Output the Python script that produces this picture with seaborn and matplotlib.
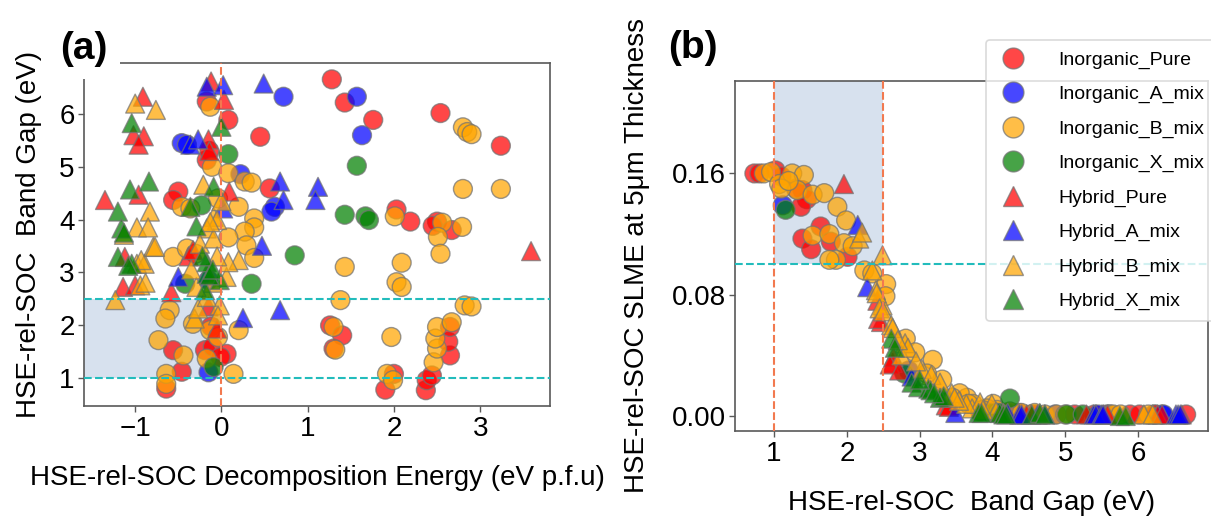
import matplotlib
matplotlib.use("Agg")
import matplotlib.pyplot as plt
from matplotlib.lines import Line2D
from matplotlib.ticker import MultipleLocator, FormatStrFormatter
import pandas as pd
import seaborn as sns

GROUPS = ["Inorganic_Pure", "Inorganic_A_mix", "Inorganic_B_mix", "Inorganic_X_mix",
          "Hybrid_Pure", "Hybrid_A_mix", "Hybrid_B_mix", "Hybrid_X_mix"]
COLORS = ["#ff0000", "#0000ff", "#ffa500", "#008000",
          "#ff0000", "#0000ff", "#ffa500", "#008000"]
MARKERS = ["o", "o", "o", "o", "^", "^", "^", "^"]

# (a) decomposition energy (eV p.f.u) vs band gap (eV)
A_INORG_PURE = [(1.28, 6.66), (1.43, 6.22), (1.76, 5.89), (2.54, 6.02), (3.24, 5.40),
                (0.45, 5.57), (0.08, 5.89), (-0.17, 6.24), (0.56, 4.59), (-0.17, 5.13),
                (-0.14, 5.30), (-0.50, 4.53), (-0.56, 4.37),
                (2.03, 4.19), (2.19, 3.96), (2.50, 3.96), (2.45, 3.88), (2.67, 3.80),
                (1.26, 1.99), (1.40, 1.80), (1.30, 1.55),
                (1.90, 0.77), (2.00, 1.07), (2.37, 0.76), (2.38, 0.95), (2.44, 1.04),
                (2.65, 1.42), (2.63, 1.68), (2.65, 1.96),
                (-0.56, 1.52), (-0.46, 1.11), (-0.64, 0.79), (-0.19, 1.52), (-0.10, 1.58),
                (0.06, 1.45), (-0.01, 1.39), (-0.12, 1.97)]
A_INORG_A = [(0.72, 6.33), (1.57, 6.33), (1.63, 5.60), (-0.46, 5.45), (-0.40, 5.42),
             (0.22, 4.86), (0.62, 4.24), (0.58, 4.15), (-0.15, 1.10), (-0.15, 2.85)]
A_INORG_B = [(2.80, 5.75), (2.85, 5.66), (2.90, 5.62), (2.80, 4.58), (3.24, 4.58),
             (2.01, 4.06), (2.56, 3.94), (2.79, 3.86), (2.51, 3.67), (2.54, 3.35),
             (1.43, 3.10), (2.09, 3.18), (2.03, 2.81), (2.09, 2.72), (1.38, 2.47),
             (1.30, 1.96), (1.32, 1.53), (1.97, 1.77), (1.92, 1.07), (1.99, 0.95),
             (2.46, 1.29), (2.50, 1.55), (2.48, 1.74), (2.50, 1.96), (2.67, 2.05),
             (2.82, 2.37), (2.90, 2.35),
             (-0.13, 6.14), (-0.11, 5.00), (0.08, 4.88), (0.27, 4.72), (0.35, 4.70),
             (-0.46, 4.24), (-0.36, 4.21), (-0.04, 4.40), (0.20, 4.24), (0.38, 4.02),
             (0.38, 3.85), (0.27, 3.77), (0.08, 3.66), (0.29, 3.51), (0.38, 3.27),
             (-0.56, 3.29), (-0.40, 3.45), (-0.30, 3.35),
             (-0.60, 2.28), (-0.65, 2.12), (-0.73, 1.71), (-0.33, 2.02), (-0.13, 1.90),
             (-0.04, 1.77), (0.20, 1.90), (-0.44, 1.42), (-0.64, 1.07), (-0.64, 0.88),
             (-0.17, 1.36), (0.14, 1.07)]
A_INORG_X = [(1.57, 5.02), (1.43, 4.09), (1.67, 4.06), (1.71, 3.99), (0.85, 3.32),
             (0.35, 2.78), (0.08, 5.24), (-0.23, 4.27), (-0.42, 2.78), (-0.09, 1.20)]
A_HYB_PURE = [(-1.35, 4.37), (-0.91, 6.33), (-1.02, 5.60), (-0.90, 5.58), (-0.96, 5.42),
              (-0.96, 4.47), (-0.12, 6.62), (0.03, 6.27), (-0.15, 5.52), (-0.14, 5.30),
              (0.09, 4.53), (-1.14, 2.72), (-1.00, 2.75), (-1.12, 3.29), (-0.58, 2.62),
              (-0.38, 3.30), (-0.33, 3.42), (-0.05, 1.93), (-0.15, 2.35), (3.59, 3.40)]
A_HYB_A = [(-0.17, 6.52), (0.02, 6.55), (0.49, 6.58), (-0.36, 5.42), (-0.27, 5.52),
           (0.68, 4.72), (0.72, 4.37), (1.12, 4.62), (1.09, 4.37), (0.47, 3.50),
           (-0.50, 2.91), (0.25, 2.13), (0.68, 2.28), (0.02, 4.21)]
A_HYB_B = [(-1.23, 2.47), (-0.94, 2.75), (-0.98, 3.16), (-0.89, 3.16), (-0.79, 3.48),
           (-1.00, 6.20), (-0.76, 6.08), (-0.83, 4.15), (-0.98, 3.85), (-0.85, 3.85),
           (-1.13, 3.71), (-0.93, 3.23), (-0.88, 2.80),
           (-0.21, 4.66), (-0.09, 4.05), (-0.05, 3.99), (-0.17, 3.83),
           (-0.31, 2.12), (-0.27, 2.31), (-0.02, 2.37), (-0.04, 2.18), (-0.17, 2.53),
           (-0.29, 2.72), (0.06, 2.91), (0.20, 3.23), (0.08, 3.19), (-0.25, 3.54),
           (-0.09, 3.64), (-0.77, 3.48), (-0.10, 2.80), (-0.05, 3.30), (-0.35, 3.05),
           (0.00, 4.35), (-0.13, 3.95)]
A_HYB_X = [(-1.04, 5.83), (-1.06, 4.57), (-0.84, 4.72), (-1.20, 4.15), (-1.16, 3.83),
           (-1.13, 3.75), (-0.09, 4.62), (-0.29, 3.87), (-0.36, 4.24), (0.00, 5.76),
           (-1.20, 3.29), (-1.04, 3.16), (-1.08, 3.12), (-0.19, 2.66), (-0.17, 2.97),
           (-0.02, 2.85), (-0.17, 3.19), (-0.14, 2.94), (-0.22, 3.30), (-0.10, 3.05)]

# (b) band gap (eV) vs SLME at 5 um thickness
B_INORG_PURE = [(0.73, 0.160), (0.80, 0.160), (1.02, 0.162), (1.10, 0.158), (1.39, 0.149),
                (1.45, 0.143), (1.37, 0.138), (1.64, 0.125), (1.39, 0.117), (1.51, 0.110),
                (1.78, 0.115), (2.01, 0.105), (1.30, 0.150),
                (3.83, 0.003), (3.96, 0.003), (4.19, 0.002), (4.37, 0.002), (4.53, 0.001),
                (4.59, 0.001), (5.13, 0.001), (5.40, 0.001), (5.57, 0.001), (5.89, 0.001),
                (6.02, 0.001), (6.22, 0.001), (6.24, 0.001), (6.66, 0.001)]
B_INORG_A = [(1.12, 0.139), (2.85, 0.030), (4.15, 0.002), (4.24, 0.002), (4.86, 0.001),
             (5.45, 0.001), (5.60, 0.001), (6.33, 0.001), (6.35, 0.001)]
B_INORG_B = [(0.86, 0.160), (0.96, 0.161), (1.07, 0.153), (1.25, 0.160), (1.41, 0.159),
             (1.32, 0.149), (1.53, 0.146), (1.69, 0.147), (1.87, 0.138), (1.99, 0.129),
             (1.53, 0.119), (1.76, 0.120), (1.96, 0.114), (1.85, 0.103), (1.76, 0.103),
             (2.08, 0.112), (1.10, 0.150), (1.20, 0.155),
             (2.24, 0.096), (2.35, 0.094), (2.54, 0.087), (2.53, 0.079), (2.81, 0.051),
             (2.94, 0.042), (3.18, 0.037), (3.31, 0.024), (3.10, 0.028), (3.65, 0.012),
             (3.73, 0.008), (4.01, 0.008), (3.55, 0.015), (3.45, 0.012),
             (4.06, 0.004), (4.24, 0.003), (4.40, 0.002), (4.58, 0.002), (4.72, 0.001),
             (4.88, 0.001), (5.00, 0.001), (5.62, 0.001), (5.66, 0.001), (5.76, 0.001),
             (6.14, 0.001), (3.92, 0.005), (3.67, 0.008), (3.86, 0.004)]
B_INORG_X = [(1.16, 0.136), (2.79, 0.028), (4.24, 0.0115), (5.02, 0.001), (5.24, 0.001),
             (3.32, 0.012), (4.06, 0.002), (3.99, 0.002), (4.09, 0.002)]
B_HYB_PURE = [(1.96, 0.153), (2.42, 0.076), (2.47, 0.062), (2.43, 0.064), (2.63, 0.035),
              (2.64, 0.039), (2.59, 0.034), (2.72, 0.030), (3.36, 0.007), (3.41, 0.007),
              (4.37, 0.001), (4.47, 0.001), (4.53, 0.001), (5.29, 0.001), (5.52, 0.001),
              (5.58, 0.001), (6.27, 0.001), (6.33, 0.001), (6.60, 0.001), (3.40, 0.006)]
B_HYB_A = [(2.15, 0.126), (2.28, 0.085), (2.89, 0.026), (3.49, 0.002), (4.21, 0.002),
           (4.37, 0.001), (4.40, 0.001), (4.62, 0.001), (4.72, 0.001), (5.39, 0.001),
           (5.42, 0.001), (5.50, 0.001), (5.52, 0.001), (6.52, 0.001), (6.55, 0.001),
           (6.58, 0.001)]
B_HYB_B = [(2.17, 0.117), (2.21, 0.121), (2.49, 0.106), (2.35, 0.096), (2.40, 0.083),
           (2.49, 0.073), (2.41, 0.081), (2.45, 0.071), (2.50, 0.069), (2.61, 0.060),
           (2.63, 0.058), (2.80, 0.048), (2.75, 0.040), (2.84, 0.045), (3.03, 0.031),
           (3.16, 0.027), (3.28, 0.022), (3.44, 0.015), (3.72, 0.005), (3.83, 0.009),
           (3.99, 0.008), (4.05, 0.003), (4.15, 0.002), (4.66, 0.001), (6.08, 0.001),
           (6.20, 0.001), (3.87, 0.004), (3.64, 0.008), (3.54, 0.010), (3.48, 0.012),
           (2.70, 0.050), (2.95, 0.036)]
B_HYB_X = [(2.61, 0.051), (2.66, 0.045), (2.89, 0.022), (2.98, 0.019), (3.12, 0.018),
           (3.15, 0.017), (3.28, 0.012), (3.33, 0.013), (3.00, 0.024), (3.81, 0.002),
           (3.85, 0.002), (4.10, 0.002), (4.15, 0.001), (4.19, 0.001), (4.54, 0.001),
           (4.65, 0.002), (4.72, 0.001), (5.75, 0.000), (5.83, 0.000), (3.20, 0.015)]

PANEL_A = [A_INORG_PURE, A_INORG_A, A_INORG_B, A_INORG_X,
           A_HYB_PURE, A_HYB_A, A_HYB_B, A_HYB_X]
PANEL_B = [B_INORG_PURE, B_INORG_A, B_INORG_B, B_INORG_X,
           B_HYB_PURE, B_HYB_A, B_HYB_B, B_HYB_X]


def to_frame(series):
    rows = []
    for name, pts in zip(GROUPS, series):
        for x, y in pts:
            rows.append({"group": name, "x": x, "y": y})
    return pd.DataFrame(rows)


sns.set_style("ticks")
plt.rcParams["font.family"] = ["Liberation Sans", "DejaVu Sans"]
plt.rcParams["axes.edgecolor"] = "0.35"
plt.rcParams["axes.linewidth"] = 1.2
plt.rcParams["text.color"] = "black"
plt.rcParams["axes.labelcolor"] = "black"
plt.rcParams["xtick.labelcolor"] = "black"
plt.rcParams["ytick.labelcolor"] = "black"

fig = plt.figure(figsize=(12.11, 5.2), dpi=100)
ax_a = fig.add_axes([0.0696, 0.2192, 0.3846, 0.6596])
ax_b = fig.add_axes([0.6073, 0.1712, 0.3902, 0.6731])

palette = dict(zip(GROUPS, COLORS))
markers = dict(zip(GROUPS, MARKERS))
scatter_kw = dict(hue="group", style="group", hue_order=GROUPS, style_order=GROUPS,
                  palette=palette, markers=markers, s=185, alpha=0.72,
                  edgecolor="0.45", linewidth=1.0, legend=False, zorder=2)

SHADE = "lightsteelblue"
CYAN = "#22bcbc"
CORAL = "#f2794f"

# (a)
xa_min, xa_max = -1.59, 3.81
ax_a.fill_betweenx([1.0, 2.5], xa_min, 0.0, color=SHADE, alpha=0.5, lw=0, zorder=0)
sns.scatterplot(data=to_frame(PANEL_A), x="x", y="y", ax=ax_a, **scatter_kw)
ax_a.axhline(1.0, color=CYAN, ls="--", lw=1.5, zorder=3)
ax_a.axhline(2.5, color=CYAN, ls="--", lw=1.5, zorder=3)
ax_a.axvline(0.0, color=CORAL, ls="--", lw=1.5, zorder=3)
ax_a.set_xlim(xa_min, xa_max)
ax_a.set_ylim(0.46, 6.97)
ax_a.xaxis.set_major_locator(MultipleLocator(1))
ax_a.yaxis.set_major_locator(MultipleLocator(1))
ax_a.set_xlabel("HSE-rel-SOC Decomposition Energy (eV p.f.u)", fontsize=20)
ax_a.set_ylabel("HSE-rel-SOC  Band Gap (eV)", fontsize=20)
ax_a.xaxis.set_label_coords(0.5, -0.172)
ax_a.yaxis.set_label_coords(-0.091, 0.5)

# (b)
yb_min, yb_max = -0.0099, 0.221
ax_b.fill_between([1.0, 2.5], 0.1, yb_max, color=SHADE, alpha=0.5, lw=0, zorder=0)
sns.scatterplot(data=to_frame(PANEL_B), x="x", y="y", ax=ax_b, **scatter_kw)
ax_b.axvline(1.0, color=CORAL, ls="--", lw=1.5, zorder=3)
ax_b.axvline(2.5, color=CORAL, ls="--", lw=1.5, zorder=3)
ax_b.axhline(0.1, color=CYAN, ls="--", lw=1.5, zorder=3)
ax_b.set_xlim(0.47, 6.96)
ax_b.set_ylim(yb_min, yb_max)
ax_b.xaxis.set_major_locator(MultipleLocator(1))
ax_b.yaxis.set_major_locator(MultipleLocator(0.08))
ax_b.yaxis.set_major_formatter(FormatStrFormatter("%.2f"))
ax_b.set_xlabel("HSE-rel-SOC  Band Gap (eV)", fontsize=20)
ax_b.set_ylabel("HSE-rel-SOC SLME at 5\u03bcm Thickness", fontsize=20)
ax_b.xaxis.set_label_coords(0.5, -0.169)
ax_b.yaxis.set_label_coords(-0.181, 0.5)

for ax in (ax_a, ax_b):
    ax.tick_params(labelsize=20, length=4, width=1.0, color="0.35", labelcolor="black",
                   pad=3)
    for sp in ax.spines.values():
        sp.set_visible(True)

handles = [Line2D([], [], ls="none", marker=m, markersize=15, markerfacecolor=c,
                  markeredgecolor="0.45", markeredgewidth=1.0, alpha=0.72)
           for c, m in zip(COLORS, MARKERS)]
leg = fig.legend(handles, GROUPS, loc="upper right", bbox_to_anchor=(1.003, 0.923),
                 fontsize=14, frameon=True, fancybox=True, labelspacing=0.86,
                 handlelength=1.7, handletextpad=1.45, borderpad=0.55, borderaxespad=0)
leg.get_frame().set_edgecolor("0.82")
leg.get_frame().set_linewidth(1.2)
leg.set_zorder(20)

label_box = dict(facecolor="white", edgecolor="none", boxstyle="square,pad=0.3")
fig.text(0.0696, 0.906, "(a)", ha="center", va="center", fontsize=28, fontweight="bold",
         bbox=label_box, zorder=10)
fig.text(0.5722, 0.9077, "(b)", ha="center", va="center", fontsize=28, fontweight="bold",
         bbox=label_box, zorder=10)

fig.savefig("out.png", dpi=100)
